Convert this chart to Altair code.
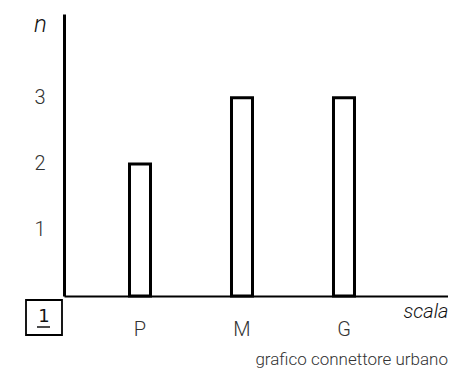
import altair as alt
import pandas as pd

categories = ["P", "M", "G"]
counts = [2, 3, 3]
y_ticks = [1, 2, 3]
y_label = "n"
x_label = "scala"
caption = "grafico connettore urbano"
box_label = "1"

df = pd.DataFrame({"scala": categories, "n": counts})

W, H = 384, 282
LIGHT = "Roboto"

bars = alt.Chart(df).mark_bar(fill="white", stroke="black", strokeWidth=3, width=21).encode(
    x=alt.X(
        "scala:N", sort=categories,
        scale=alt.Scale(paddingInner=0, paddingOuter=0.3824, align=0.3205),
        axis=alt.Axis(
            title=x_label, labelAngle=0, ticks=False, grid=False,
            domainColor="black", domainWidth=2, labelPadding=23,
            labelFont=LIGHT, labelFontWeight=300, labelFontSize=20, labelColor="#333",
            titleFont=LIGHT, titleFontStyle="italic", titleFontWeight=300,
            titleFontSize=20, titleColor="#111", titleX=W, titleY=21,
            titleAlign="right", titleBaseline="alphabetic", titleAnchor="end",
        ),
    ),
    y=alt.Y(
        "n:Q",
        scale=alt.Scale(domain=[0, 4.27], nice=False, zero=True),
        axis=alt.Axis(
            title=y_label, values=y_ticks, ticks=False, grid=False,
            domainColor="black", domainWidth=3, labelPadding=19,
            labelFont=LIGHT, labelFontWeight=300, labelFontSize=20, labelColor="#333",
            titleFont=LIGHT, titleFontStyle="italic", titleFontWeight=300,
            titleFontSize=24, titleColor="#111", titleAngle=0, titleX=-24, titleY=17,
            titleAlign="center", titleBaseline="alphabetic",
        ),
    ),
    y2=alt.value(H - 7),
)

one = pd.DataFrame({"t": [caption], "b": [box_label]})

cap = alt.Chart(one).mark_text(
    font=LIGHT, fontWeight=300, fontSize=17, color="#333", align="right", baseline="alphabetic"
).encode(x=alt.value(W), y=alt.value(351), text="t:N")

box = alt.Chart(one).mark_rect(fill="white", stroke="black", strokeWidth=1.8).encode(
    x=alt.value(-38), x2=alt.value(-2), y=alt.value(286), y2=alt.value(321)
)
box_txt = alt.Chart(one).mark_text(
    font="DejaVu Sans", fontSize=18, color="#111", align="center", baseline="alphabetic"
).encode(x=alt.value(-20), y=alt.value(308), text="b:N")
underline = alt.Chart(one).mark_rule(stroke="#111", strokeWidth=1.5).encode(
    x=alt.value(-27), x2=alt.value(-14), y=alt.value(313)
)

chart = alt.layer(bars, cap, box, box_txt, underline).properties(
    width=W, height=H,
    autosize=alt.AutoSizeParams(type="none"),
    padding={"left": 56, "top": 6, "right": 0, "bottom": 75},
).configure_view(stroke=None)

chart.save("out.html", embed_options={"renderer": "svg", "actions": False})
